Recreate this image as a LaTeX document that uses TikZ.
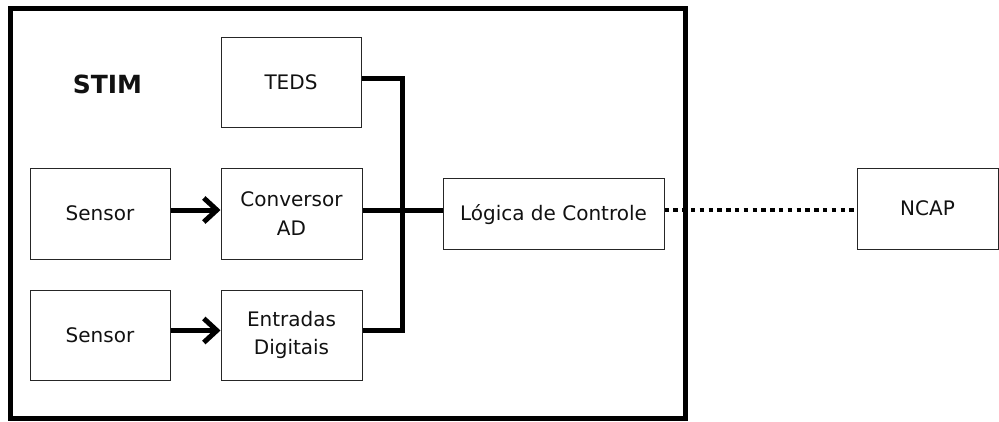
\documentclass[tikz,border=0pt]{standalone}
\usepackage{fontspec}
\setmainfont{DejaVu Sans}
\usetikzlibrary{arrows.meta}
\definecolor{txt}{HTML}{111111}
\begin{document}
\begin{tikzpicture}[x=1pt,y=-1pt,
  box/.style={draw=black!85, line width=1pt, rectangle, inner sep=0pt,
    font=\fontsize{20}{28.5}\selectfont, text=txt},
  onel/.style={text height=14.5pt, text depth=0pt},
  twol/.style={align=center},
  bus/.style={line width=5pt, black},
  arr/.style={line width=5pt, black, -{Straight Barb[length=13pt,width=24pt,line width=5pt]}},
  dots/.style={line width=4.5pt, black, dash pattern=on 4.5pt off 4.3pt}]
\useasboundingbox (0,0) rectangle (999,421);
\draw[line width=5pt] (10,8) rectangle (685,418.5);
\node[font=\bfseries\fontsize{25}{30}\selectfont, text=txt, inner sep=0pt, text height=18pt, text depth=0pt] (stim) at (107.5,84) {STIM};
\node[box, onel, minimum width=140pt, minimum height=90pt] (teds) at (291,82) {TEDS};
\node[box, onel, minimum width=140pt, minimum height=91pt] (s1) at (100,213.5) {Sensor};
\node[box, twol, minimum width=141pt, minimum height=91pt] (conv) at (291.5,213.5) {Conversor\\AD};
\node[box, onel, minimum width=140pt, minimum height=90pt] (s2) at (100,335) {Sensor};
\node[box, twol, minimum width=141pt, minimum height=90pt] (ent) at (291.5,335) {Entradas\\Digitais};
\node[box, onel, minimum width=221pt, minimum height=71pt] (logic) at (553.5,213.5) {Lógica de Controle};
\node[box, onel, minimum width=141pt, minimum height=81pt] (ncap) at (927.5,208.5) {NCAP};
\coordinate (bt) at (402,78);
\coordinate (bb) at (402,330.5);
\draw[bus] ([yshift=4pt]teds.east) -- (bt) -- (bb) -- ([yshift=4.5pt]ent.east);
\draw[bus] ([yshift=3.5pt]conv.east) -- ([yshift=3.5pt]logic.west);
\draw[arr] ([yshift=3.5pt]s1.east) -- ([yshift=3.5pt]conv.west);
\draw[arr] ([yshift=4.5pt]s2.east) -- ([yshift=4.5pt]ent.west);
\draw[dots] ([yshift=3.5pt]logic.east) -- ([yshift=-1.5pt]ncap.west);
\end{tikzpicture}
\end{document}
